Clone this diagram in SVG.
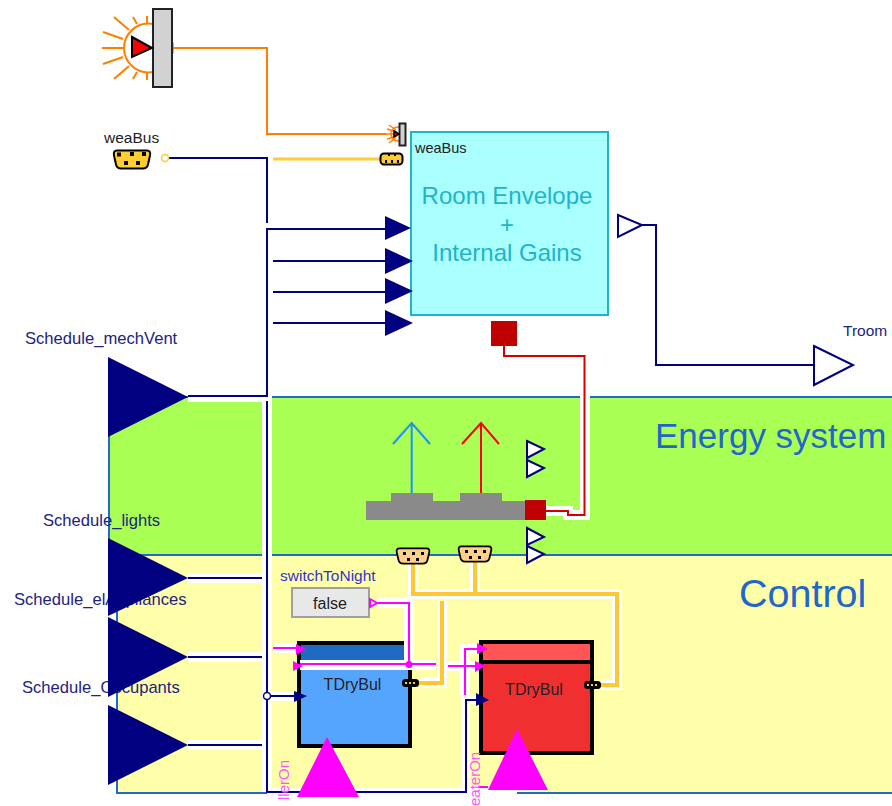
<svg xmlns="http://www.w3.org/2000/svg" xmlns:xlink="http://www.w3.org/1999/xlink" width="892" height="806" viewBox="0 0 892 806">
<style>
text{font-family:"Liberation Sans",Arial,sans-serif}
.lbl{font-size:16.6px;fill:#22227f}
.lbs{font-size:15.5px;fill:#22227f}
.dk{font-size:15.5px;fill:#222}
.inner{font-size:24px;fill:#1fb4c8;text-anchor:middle}
.zone{fill:#2266cc}
.mag{font-size:15px;fill:#ff55ff}
.h{fill:none;stroke:#fff;stroke-linejoin:miter}
.nv{fill:none;stroke:#000080;stroke-width:2}
.mg{fill:none;stroke:#ff00ff;stroke-width:2}
.gd{fill:none;stroke:#ffc733;stroke-width:4}
.nt{fill:#000080}
.ot{fill:#fff;stroke:#000080;stroke-width:2}
.mt{fill:#ff00ff}
.sq{fill:#000}
.ray{fill:none;stroke:#ff8000}
</style>
<defs>
<path id="busShape" d="M-15-9H15Q19-9 18-4L16 5Q15 9 11 9H-11Q-15 9-16 5L-18-4Q-19-9-15-9Z"/>
</defs>

<g id="zones">
<rect x="109" y="397" width="790" height="158" fill="#aaff55" stroke="#1f6bc9" stroke-width="2"/>
<rect x="117" y="555" width="780" height="238" fill="#ffffaa" stroke="#1f6bc9" stroke-width="2"/>
<rect x="108" y="794" width="784" height="12" fill="#fff"/>
<text class="zone" x="655" y="448" font-size="35">Energy system</text>
<text class="zone" x="739" y="607" font-size="39.500">Control</text>
</g>

<g id="roomEnvelope">
<rect x="411" y="132" width="197" height="183" fill="#aaffff" stroke="#1fb4c8" stroke-width="2"/>
<text class="dk" x="415" y="153" style="font-size:14.500px">weaBus</text>
<text class="inner" x="507" y="204">Room Envelope</text>
<text class="inner" x="507" y="233">+</text>
<text class="inner" x="507" y="261">Internal Gains</text>
</g>

<g id="coolerBlock">
<rect x="299" y="643" width="111" height="103" fill="#55a5ff" stroke="#000" stroke-width="4"/>
<rect x="301" y="645" width="105" height="15" fill="#1f6bc4"/>
<text x="352.500" y="690" font-size="16" fill="#222" text-anchor="middle">TDryBul</text>
</g>

<g id="heaterBlock">
<rect x="481" y="642" width="111" height="111" fill="#f03030" stroke="#000" stroke-width="4"/>
<rect x="483" y="644" width="107" height="16" fill="#ff5555"/>
<rect x="481" y="660" width="111" height="4" fill="#000"/>
<text x="534" y="695" font-size="16" fill="#222" text-anchor="middle">TDryBul</text>
</g>

<g id="connectors">
<g class="h" stroke-width="10">
<path d="M188 397H267V792M188 578H262M188 657H262M188 745H262M267 696H294"/>
<path d="M267 792H466V700H476" stroke-width="8"/>
<path d="M273 648H296M377 603H409V665M300 665H436M448 666H476M465 695V649H477"/>
<path d="M504 358H585V515H568V511H546" stroke-width="10"/>
<path d="M413 564V594H617V685H601M475 562V594M442 601V683H420"/>
<path d="M470 790H517" stroke-width="9"/>
</g>
<path d="M172 48H267V134H386" fill="none" stroke="#ff8000" stroke-width="2"/>
<path class="nv" d="M165 158H267V223"/>
<path class="nv" d="M188 396H267V229H386M273 261H386M273 292H386M273 323H386"/>
<path class="nv" d="M267 401V792H466V700H476M188 578H262M188 657H262M188 745H262M267 696H294"/>
<path class="nv" d="M642 225H656V365H814"/>
<path d="M273 159H380" fill="none" stroke="#ffcc33" stroke-width="3"/>
<path d="M504 346V356H584.500V515H568V511H546" fill="none" stroke="#d40000" stroke-width="2"/>
<path class="gd" d="M413 564V594H617V685H601M475 562V594M442 601V683H416"/>
<path class="mg" d="M273 648H296M377 603H409V664M300 664H436M448 666H476M465 695V649H477M478 787H488"/>
<circle cx="409" cy="664.500" r="3.500" fill="#ff00ff"/>
</g>

<g id="sunLarge">
<circle class="ray" cx="148.500" cy="48" r="24.500" stroke-width="2"/>
<path class="ray" stroke-width="2" d="M102 48H124M103 32L123 39M114 17L129 30M133 17L137 24M147 16V23M103 64L123 57M114 79L129 66M133 79L137 72M147 80V73"/>
<rect x="153" y="9" width="19" height="78" fill="#d2d2d2" stroke="#222" stroke-width="2"/>
<path d="M132 37L152 48L132 57Z" fill="#f00" stroke="#000" stroke-width="2"/>
</g>
<g id="sunSmall">
<path class="ray" stroke-width="1.500" d="M386 134H398M387 129L397 132M389 125L396 130M389 143L396 138M387 139L397 136"/>
<circle class="ray" cx="398" cy="134" r="7" stroke-width="1.500"/>
<rect x="399.500" y="123.500" width="6" height="22" fill="#d2d2d2" stroke="#222" stroke-width="2"/>
<path d="M394 131L399 134L394 137Z" fill="#f00" stroke="#000" stroke-width="1.500"/>
</g>

<g id="weaBus">
<text class="dk" x="104" y="143">weaBus</text>
<use href="#busShape" xlink:href="#busShape" transform="translate(132 159.500)" fill="#ffcc33" stroke="#000" stroke-width="2"/>
<path class="sq" d="M117 152.500h4v4h-4zM130 152h4v4h-4zM142 152h4v4h-4zM124 161h4v4h-4zM136 161h4v4h-4z"/>
<circle cx="165" cy="158" r="3.500" fill="#fff" stroke="#ffcc33" stroke-width="1.500"/>
</g>

<g id="weaBusSmall">
<rect x="380.500" y="153.500" width="22" height="11" rx="3.500" fill="#ffcc33" stroke="#000" stroke-width="2"/>
<path class="sq" d="M385 160h2v3h-2zM391 160h2v3h-2zM397 160h2v3h-2zM388 154h2v2h-2zM394 154h2v2h-2z"/>
</g>

<g id="roomInputs">
<path class="nt" d="M385 216L411 228L385 240ZM385 248L413 261L385 274ZM385 278L413 291L385 304ZM385 310L413 323L385 336Z"/>
</g>

<g id="roomOutput"><path class="ot" d="M618 215L642 225L618 237Z"/></g>
<g id="Troom">
<text class="lbs" x="843" y="336">Troom</text>
<path class="ot" d="M814 346L853 365L814 385Z"/>
</g>

<g id="heatPortRoom"><rect x="491" y="321" width="26" height="25" fill="#c00000"/></g>

<g id="emission">
<path d="M366 501H391V493H433V501H460V493H502V501H526V520H366Z" fill="#8a8a8a"/>
<path d="M411.700 493V423M393 444L411.700 423L430 444" fill="none" stroke="#1e90ff" stroke-width="2"/>
<path d="M481 493V423M462 444L481 423L499 444" fill="none" stroke="#f00" stroke-width="2"/>
<rect x="525" y="500" width="21" height="20" fill="#c00000"/>
<path class="ot" d="M527 441L544 449L527 458ZM527 460L544 468L527 477ZM527 528L544 537L527 545ZM527 546L544 554L527 563Z"/>
</g>

<g id="busEnergy1">
<use href="#busShape" xlink:href="#busShape" transform="translate(413 556) scale(.9 .85)" fill="#ffd08a" stroke="#000" stroke-width="2"/>
<path class="sq" d="M403 552h3v3h-3zM412 552h3v3h-3zM421 552h3v3h-3zM407 558h3v3h-3zM416 558h3v3h-3z"/>
</g>
<g id="busEnergy2">
<use href="#busShape" xlink:href="#busShape" transform="translate(475 554) scale(.9 .85)" fill="#ffd08a" stroke="#000" stroke-width="2"/>
<path class="sq" d="M465 550h3v3h-3zM474 550h3v3h-3zM483 550h3v3h-3zM469 556h3v3h-3zM478 556h3v3h-3z"/>
</g>

<g id="switchToNight">
<text class="lbs" x="280" y="581" style="fill:#3333cc">switchToNight</text>
<rect x="292" y="588" width="77" height="29" fill="#e8e8e8" stroke="#a0a0a0" stroke-width="2"/>
<text x="330" y="609" font-size="16" fill="#222" text-anchor="middle">false</text>
<path d="M370 599L377 603L370 607Z" fill="#fff" stroke="#ff00ff" stroke-width="2"/>
</g>

<g id="ports">
<path class="mt" d="M296 644L306 649L296 655ZM293 661L303 666L293 671ZM477 643L488 649L477 654ZM475 661L486 666L475 672Z"/>
<path class="nt" d="M294 691L307 696L294 702ZM476 693L489 700L476 706Z"/>
<rect x="402" y="679" width="17" height="8" rx="3.500" fill="#000"/>
<path d="M405 682h2v2h-2zM409 682h2v2h-2zM413 682h2v2h-2z" fill="#ffc733"/>
<rect x="584" y="681" width="17" height="8" rx="3.500" fill="#000"/>
<path d="M587 684h2v2h-2zM591 684h2v2h-2zM595 684h2v2h-2z" fill="#ffc733"/>
<circle cx="267" cy="696" r="3.500" fill="#fff" stroke="#000080" stroke-width="1.500"/>
</g>

<g id="schedule_Occupants">
<text class="lbl" x="22" y="693">Schedule_Occupants</text>
<path class="nt" d="M108 705L188 745L108 785Z"/>
</g>
<g id="schedule_elAppliances">
<text class="lbl" x="14" y="605">Schedule_elAppliances</text>
<path class="nt" d="M108 617L188 657L108 697Z"/>
</g>
<g id="schedule_lights">
<text class="lbl" x="43" y="526">Schedule_lights</text>
<path class="nt" d="M108 538L188 578L108 616Z"/>
</g>
<g id="schedule_mechVent">
<text class="lbl" x="25" y="344">Schedule_mechVent</text>
<path class="nt" d="M108 357L188 397L108 437Z"/>
</g>

<g id="chillerOn">
<text class="mag" transform="translate(289 806) rotate(-90)" x="6">llerOn</text>
<path class="mt" d="M327 737L359 797H297Z"/>
</g>
<g id="heaterOn">
<text class="mag" transform="translate(480 806) rotate(-90)">eaterOn</text>
<path class="mt" d="M517 729L548 790H488Z"/>
</g>
</svg>
